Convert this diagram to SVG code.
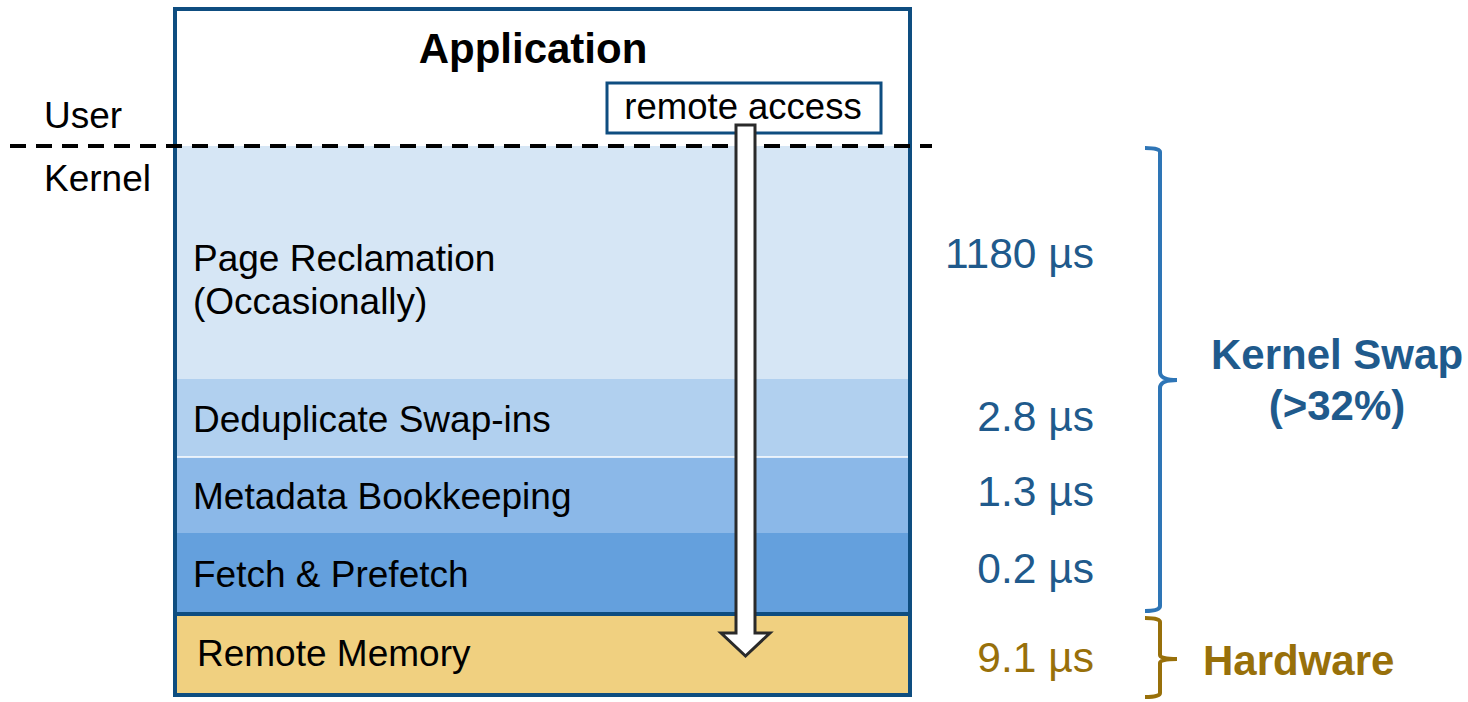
<svg xmlns="http://www.w3.org/2000/svg" width="1468" height="702" viewBox="0 0 1468 702">
<style>
.t{font-family:"Liberation Sans",Arial,sans-serif;fill:#000}
.lbl{font-size:37px}
.num{font-size:42.5px;fill:#205a8c;text-anchor:end}
.hw{fill:#98700a}
.b{font-weight:bold}
</style>
<rect x="0" y="0" width="1468" height="702" fill="#fff"/>
<g id="layers">
<rect x="175" y="146" width="735" height="233" fill="#d6e6f5"/>
<rect x="175" y="379" width="735" height="78" fill="#b1d0ef"/>
<rect x="175" y="457" width="735" height="76" fill="#8bb8e8"/>
<rect x="175" y="533" width="735" height="80" fill="#64a0dd"/>
<line x1="175" y1="457" x2="910" y2="457" stroke="#fff" stroke-width="1.5"/>
<rect x="175" y="615" width="735" height="80" fill="#f0d080"/>
<line x1="175" y1="614" x2="910" y2="614" stroke="#0e4d80" stroke-width="4"/>
</g>
<g id="application">
<rect x="175" y="9" width="735" height="686" fill="none" stroke="#0e4d80" stroke-width="4"/>
<text class="t b" x="533" y="63" font-size="42" text-anchor="middle">Application</text>
</g>
<g id="remote-access">
<rect x="607" y="83" width="274" height="50" fill="#fff" stroke="#0e4d80" stroke-width="3"/>
<text class="t" x="743" y="119" font-size="36.5" text-anchor="middle">remote access</text>
</g>
<g id="page-reclamation"><text class="t lbl" x="193" y="271">Page Reclamation</text><text class="t lbl" x="193" y="314">(Occasionally)</text></g>
<g id="dedup"><text class="t lbl" x="193" y="432">Deduplicate Swap-ins</text></g>
<g id="metadata"><text class="t lbl" x="193" y="509">Metadata Bookkeeping</text></g>
<g id="fetch"><text class="t lbl" x="193" y="587">Fetch &amp; Prefetch</text></g>
<g id="remote-memory"><text class="t lbl" x="197" y="666">Remote Memory</text></g>
<g id="user-kernel">
<text class="t" x="44" y="128" font-size="37">User</text>
<text class="t" x="44" y="191" font-size="37">Kernel</text>
</g>
<g id="connectors">
<line x1="10" y1="146" x2="932" y2="146" stroke="#000" stroke-width="4" stroke-dasharray="16,10"/>
<path d="M736,125 L755,125 L755,633 L770,633 L745.5,656 L721,633 L736,633 Z" fill="#fff" stroke="#2a2a2a" stroke-width="3" stroke-linejoin="miter"/>
</g>
<g id="numbers">
<text class="t num" x="1094" y="268">1180 µs</text>
<text class="t num" x="1094" y="431">2.8 µs</text>
<text class="t num" x="1094" y="506">1.3 µs</text>
<text class="t num" x="1094" y="583">0.2 µs</text>
<text class="t num hw" x="1094" y="672">9.1 µs</text>
</g>
<g id="kernel-swap">
<path d="M1145,148 Q1160,148 1160,152 L1160,372 Q1160,380 1177,380 Q1160,380 1160,388 L1160,606 Q1160,611 1145,611" fill="none" stroke="#2e75b6" stroke-width="4"/>
<text class="t b" x="1337" y="369" font-size="42" text-anchor="middle" style="fill:#1f5a8c">Kernel Swap</text>
<text class="t b" x="1337" y="420" font-size="42" text-anchor="middle" style="fill:#1f5a8c">(&gt;32%)</text>
</g>
<g id="hardware">
<path d="M1145,618 Q1160,618 1160,622 L1160,655 Q1160,659 1177,659 Q1160,659 1160,663 L1160,693 Q1160,697 1145,697" fill="none" stroke="#98700a" stroke-width="4"/>
<text class="t b" x="1203" y="675" font-size="42" style="fill:#98700a">Hardware</text>
</g>
</svg>
